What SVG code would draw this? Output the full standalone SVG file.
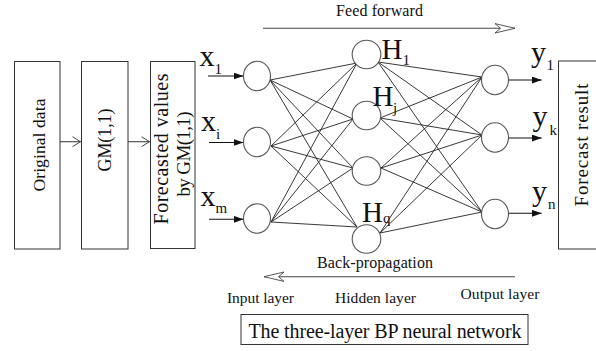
<svg xmlns="http://www.w3.org/2000/svg" width="596" height="351" viewBox="0 0 596 351">
  <style>
    text { font-family: "Liberation Serif", "Times New Roman", serif; fill: #111; }
    .box { fill: #fff; stroke: #333; stroke-width: 1; }
    .node { fill: #fff; stroke: #555; stroke-width: 1.1; }
    .link { stroke: #222; stroke-width: 0.9; fill: none; }
    .arr { stroke: #111; stroke-width: 1.1; fill: none; }
    .flow { stroke: #444; stroke-width: 1.1; fill: none; }
    .big { font-size: 30px; }
    .hid { font-size: 29px; }
    .sub { font-size: 15px; }
    .lbl { font-size: 15.5px; }
  </style>
  <defs>
    <marker id="solid" markerUnits="userSpaceOnUse" markerWidth="11" markerHeight="8" refX="10" refY="3.5" orient="auto">
      <path d="M0,0 L10,3.5 L0,7 Z" fill="#111"/>
    </marker>
    <marker id="vee" markerUnits="userSpaceOnUse" markerWidth="10" markerHeight="12" refX="8.5" refY="5.5" orient="auto">
      <path d="M0.5,0.5 L8.5,5.5 L0.5,10.5" fill="none" stroke="#333" stroke-width="0.9"/>
    </marker>
    <marker id="hollow" markerUnits="userSpaceOnUse" markerWidth="22" markerHeight="13" refX="20.5" refY="5.5" orient="auto-start-reverse">
      <path d="M0.5,0.8 L20.5,5.5 L0.5,10.2 L6,5.5 Z" fill="#fff" stroke="#444" stroke-width="0.9"/>
    </marker>
  </defs>

  <!-- pre-processing boxes -->
  <g id="original-data">
    <rect class="box" x="14.5" y="61.5" width="45.5" height="187.5"/>
    <text transform="translate(45,145) rotate(-90)" text-anchor="middle" font-size="17.5" textLength="93">Original data</text>
  </g>
  <g id="gm-model">
    <rect class="box" x="81.5" y="61.5" width="46.5" height="187.5"/>
    <text transform="translate(111,140) rotate(-90)" text-anchor="middle" font-size="18" textLength="63">GM(1,1)</text>
  </g>
  <g id="forecasted-values">
    <rect class="box" x="150.5" y="61.5" width="44.5" height="187"/>
    <text transform="translate(167.5,149) rotate(-90)" text-anchor="middle" font-size="20" textLength="151">Forecasted values</text>
    <text transform="translate(190,154) rotate(-90)" text-anchor="middle" font-size="19" textLength="85">by GM(1,1)</text>
  </g>
  <g id="forecast-result">
    <rect class="box" x="558.5" y="61" width="60" height="188"/>
    <text transform="translate(588,145) rotate(-90)" text-anchor="middle" font-size="19" textLength="123">Forecast result</text>
  </g>

  <!-- connectors -->
  <g id="connectors">
    <!-- box to box -->
    <line class="flow" x1="60" y1="141.7" x2="80.5" y2="141.7" marker-end="url(#vee)"/>
    <line class="flow" x1="128" y1="141.7" x2="149.5" y2="141.7" marker-end="url(#vee)"/>

    <!-- inputs -->
    <line class="arr" x1="208" y1="76" x2="243.5" y2="76" marker-end="url(#solid)"/>
    <line class="arr" x1="209" y1="142.5" x2="243.5" y2="142.5" marker-end="url(#solid)"/>
    <line class="arr" x1="209" y1="219.3" x2="243.5" y2="219.3" marker-end="url(#solid)"/>

    <!-- input layer to hidden layer -->
    <path class="link" d="M270,80 L357,63 M270,80 L353,119 M270,80 L353,168 M270,80 L357,227
                          M271,146 L357,63 M271,146 L353,119 M271,146 L353,168 M271,146 L357,227
                          M271,222 L357,63 M271,222 L353,119 M271,222 L353,168 M271,222 L357,227"/>
    <!-- hidden layer to output layer -->
    <path class="link" d="M378,62 L482,77 M378,62 L482,135 M378,62 L482,212
                          M380,118 L482,77 M380,118 L482,135 M380,118 L482,212
                          M381,168 L482,77 M381,168 L482,135 M381,168 L482,212
                          M380,233 L482,77 M380,233 L482,135 M380,233 L482,212"/>

    <!-- outputs -->
    <line class="arr" x1="508.5" y1="80" x2="541.7" y2="80" marker-end="url(#solid)"/>
    <line class="arr" x1="508.5" y1="138" x2="541.7" y2="138" marker-end="url(#solid)"/>
    <line class="arr" x1="508.5" y1="213.3" x2="541.7" y2="213.3" marker-end="url(#solid)"/>

    <!-- direction arrows -->
    <line class="flow" x1="263" y1="28.3" x2="515" y2="28.3" marker-end="url(#hollow)"/>
    <line class="flow" x1="264" y1="276.7" x2="515" y2="276.7" marker-start="url(#hollow)"/>
  </g>

  <!-- input layer -->
  <g id="input-1"><ellipse class="node" cx="257" cy="76" rx="13.5" ry="14.7"/></g>
  <g id="input-i"><ellipse class="node" cx="257" cy="142" rx="13.5" ry="14.7"/></g>
  <g id="input-m"><ellipse class="node" cx="257" cy="218.5" rx="13.5" ry="14.7"/></g>

  <!-- hidden layer -->
  <g id="hidden-1"><circle class="node" cx="366.5" cy="54.5" r="14.3"/></g>
  <g id="hidden-j"><circle class="node" cx="366.5" cy="115.5" r="14.3"/></g>
  <g id="hidden-3"><circle class="node" cx="366.5" cy="171" r="14.3"/></g>
  <g id="hidden-q"><circle class="node" cx="366.5" cy="239" r="14.3"/></g>

  <!-- output layer -->
  <g id="output-1"><ellipse class="node" cx="495" cy="80" rx="13.5" ry="14.7"/></g>
  <g id="output-k"><ellipse class="node" cx="495" cy="137.5" rx="13.5" ry="14.7"/></g>
  <g id="output-n"><ellipse class="node" cx="495" cy="214" rx="13.5" ry="14.7"/></g>

  <!-- variable labels -->
  <g id="labels">
    <text class="big" x="199.5" y="66">x</text><text class="sub" x="214.5" y="73.5">1</text>
    <text class="big" x="201" y="131">x</text><text class="sub" x="216" y="138.5">i</text>
    <text class="big" x="200.5" y="206">x</text><text class="sub" x="215.5" y="213">m</text>

    <text class="hid" x="381.5" y="58.5">H</text><text class="sub" x="402.5" y="65">1</text>
    <text class="hid" x="372.5" y="106">H</text><text class="sub" x="393" y="113">j</text>
    <text class="hid" x="362" y="221.5">H</text><text class="sub" x="383" y="223">q</text>

    <text class="big" x="531" y="61.5">y</text><text class="sub" x="546.5" y="69.5">1</text>
    <text class="big" x="532.5" y="125.5">y</text><text class="sub" x="549.5" y="135">k</text>
    <text class="big" x="532" y="200.5">y</text><text class="sub" x="548" y="208.5">n</text>
  </g>

  <!-- captions -->
  <g id="captions">
    <text x="379.5" y="16" font-size="16" text-anchor="middle" textLength="87">Feed forward</text>
    <text x="375" y="267.5" font-size="16" text-anchor="middle" textLength="116">Back-propagation</text>
    <text class="lbl" x="227" y="302.5" textLength="67">Input layer</text>
    <text class="lbl" x="335" y="302.5" textLength="81">Hidden layer</text>
    <text class="lbl" x="460.5" y="298.5" textLength="79">Output layer</text>
  </g>

  <g id="network-title">
    <rect class="box" x="241" y="314.5" width="287" height="30"/>
    <text x="248.5" y="337.5" font-size="20" textLength="273">The three-layer BP neural network</text>
  </g>
</svg>
